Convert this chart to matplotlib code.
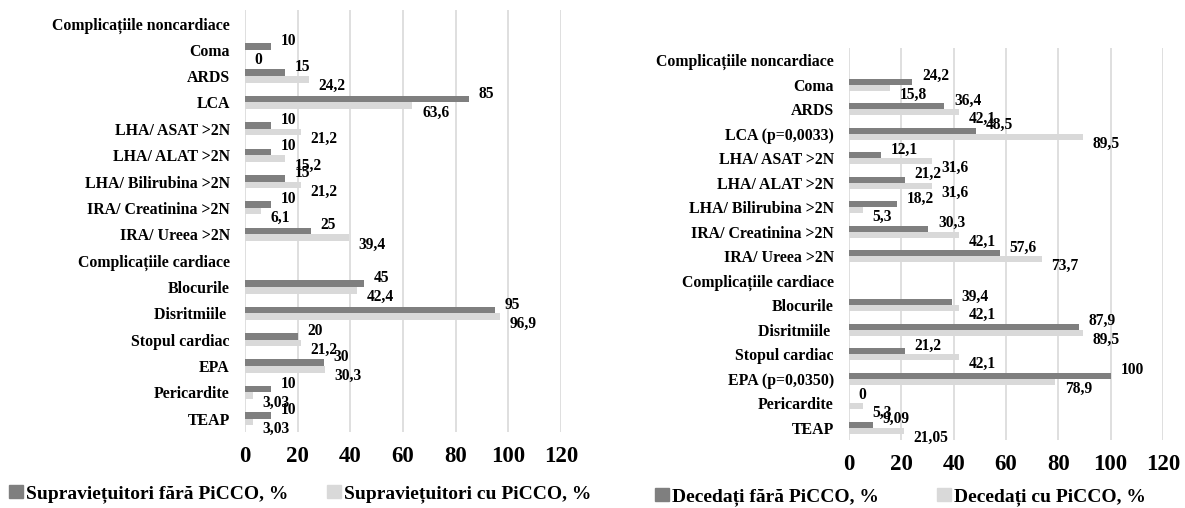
import matplotlib.pyplot as plt
from matplotlib.patches import Patch
import numpy as np

plt.rcParams['font.family'] = ['Liberation Serif', 'DejaVu Serif']
plt.rcParams['font.weight'] = 'bold'

left_categories = ["Complicațiile noncardiace", "Coma", "ARDS", "LCA", "LHA/ ASAT >2N",
                   "LHA/ ALAT >2N", "LHA/ Bilirubina >2N", "IRA/ Creatinina >2N",
                   "IRA/ Ureea >2N", "Complicațiile cardiace", "Blocurile", "Disritmiile ",
                   "Stopul cardiac", "EPA", "Pericardite", "TEAP"]
right_categories = ["Complicațiile noncardiace", "Coma", "ARDS", "LCA (p=0,0033)", "LHA/ ASAT >2N",
                    "LHA/ ALAT >2N", "LHA/ Bilirubina >2N", "IRA/ Creatinina >2N",
                    "IRA/ Ureea >2N", "Complicațiile cardiace", "Blocurile", "Disritmiile ",
                    "Stopul cardiac", "EPA (p=0,0350)", "Pericardite", "TEAP"]

# None = header row without bars
surv_no_picco = [None, 10, 15, 85, 10, 10, 15, 10, 25, None, 45, 95, 20, 30, 10, 10]
surv_picco = [None, 0, 24.2, 63.6, 21.2, 15.2, 21.2, 6.1, 39.4, None, 42.4, 96.9, 21.2, 30.3, 3.03, 3.03]
dead_no_picco = [None, 24.2, 36.4, 48.5, 12.1, 21.2, 18.2, 30.3, 57.6, None, 39.4, 87.9, 21.2, 100, 0, 9.09]
dead_picco = [None, 15.8, 42.1, 89.5, 31.6, 31.6, 5.3, 42.1, 73.7, None, 42.1, 89.5, 42.1, 78.9, 5.3, 21.05]

dark = "#7F7F7F"
light = "#D9D9D9"


def fmt(v):
    return ("%g" % v).replace(".", ",")


def draw(ax, cats, s1, s2):
    y = np.arange(len(cats))
    h = 0.25
    for vals, off, col, dy in [(s1, -h / 2, dark, 4), (s2, h / 2, light, -5)]:
        for i, v in enumerate(vals):
            if v is None:
                continue
            ax.barh(y[i] + off, v, height=h, color=col)
            ax.annotate(fmt(v), (v, y[i] + off), xytext=(7, dy), textcoords="offset points",
                        ha="left", va="center", fontsize=11.2, fontweight="bold")
    ax.set_yticks(y)
    ax.set_yticklabels(cats, fontsize=11.4, fontweight="bold")
    ax.set_ylim(len(cats) - 0.5, -0.5)
    ax.set_xlim(0, 120)
    ax.set_xticks(range(0, 121, 20))
    ax.tick_params(axis="x", labelsize=16.5, length=0, pad=10)
    ax.tick_params(axis="y", length=0, pad=11)
    for t in ax.get_xticklabels():
        t.set_fontweight("bold")
    ax.grid(axis="x", color="#D9D9D9", linewidth=1.2)
    ax.set_axisbelow(True)
    for s in ax.spines.values():
        s.set_visible(False)


fig = plt.figure(figsize=(11.85, 5.08), dpi=100)
ax1 = fig.add_axes([0.2068, 0.1496, 0.2666, 0.8304])
ax2 = fig.add_axes([0.7165, 0.1339, 0.2649, 0.7716])

draw(ax1, left_categories, surv_no_picco, surv_picco)
draw(ax2, right_categories, dead_no_picco, dead_picco)

leg_kw = dict(ncol=2, frameon=False, handlelength=0.7, handleheight=0.7,
              handletextpad=0.15, borderaxespad=0, borderpad=0,
              prop={"size": 14, "weight": "bold"})
fig.legend([Patch(color=dark), Patch(color=light)],
           ["Supraviețuitori fără PiCCO, %", "Supraviețuitori cu PiCCO, %"],
           loc="center left", bbox_to_anchor=(0.008, 0.028), columnspacing=2.0, **leg_kw)
fig.legend([Patch(color=dark), Patch(color=light)],
           ["Decedați fără PiCCO, %", "Decedați cu PiCCO, %"],
           loc="center left", bbox_to_anchor=(0.553, 0.022), columnspacing=3.0, **leg_kw)

fig.savefig("out.png", dpi=100)
